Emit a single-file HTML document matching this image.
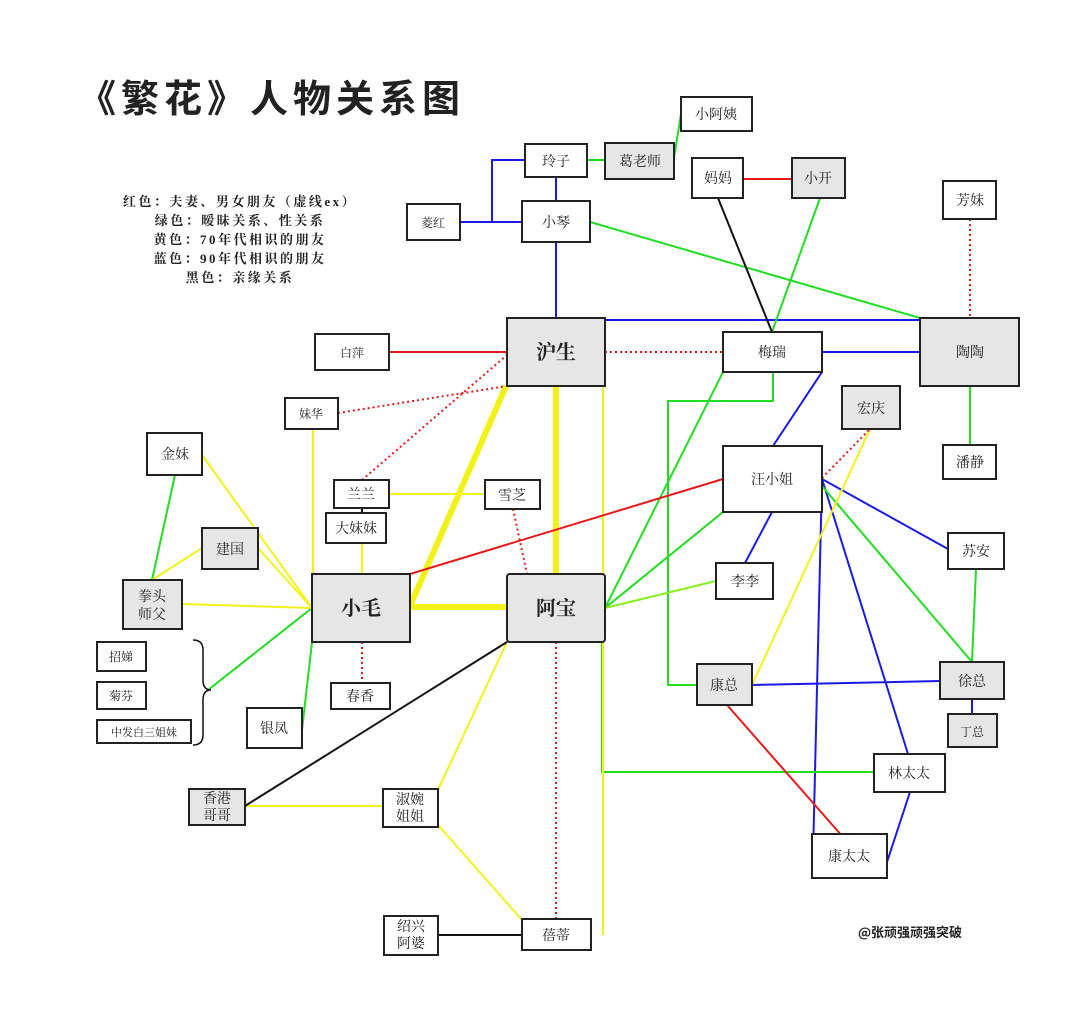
<!DOCTYPE html>
<html><head><meta charset="utf-8"><style>
body{margin:0;background:#fff;}
svg text{font-family:"Liberation Serif","Noto Serif CJK SC",serif;fill:#222;}
</style></head><body>
<svg width="1080" height="1014" viewBox="0 0 1080 1014" xmlns="http://www.w3.org/2000/svg">
<rect width="1080" height="1014" fill="#fff"/>
<text x="78" y="112" font-size="38" font-weight="bold" style="font-family:'Noto Sans CJK SC',sans-serif" letter-spacing="5">《繁花》人物关系图</text>
<g font-size="13" text-anchor="middle" style="font-family:'Noto Serif CJK SC',serif" font-weight="bold" letter-spacing="2.5">
<text x="240" y="206">红色：夫妻、男女朋友（虚线ex）</text>
<text x="240" y="225">绿色：暧昧关系、性关系</text>
<text x="240" y="244">黄色：70年代相识的朋友</text>
<text x="240" y="263">蓝色：90年代相识的朋友</text>
<text x="240" y="282">黑色：亲缘关系</text>
</g>
<text x="910" y="937" font-size="13" font-weight="bold" text-anchor="middle" style="font-family:'Noto Sans CJK SC',sans-serif">@张顽强顽强突破</text>
<g fill="none" stroke-width="2">
<g stroke="#1a1ae6">
<polyline points="525,160 492,160 492,222 460,222"/>
<line x1="492" y1="222" x2="522" y2="222"/>
<line x1="556" y1="177" x2="556" y2="201"/>
<line x1="556" y1="242" x2="556" y2="318"/>
<line x1="605" y1="320" x2="920" y2="320"/>
<line x1="822" y1="352" x2="920" y2="352"/>
<line x1="822" y1="372" x2="773" y2="446"/>
<line x1="772" y1="512" x2="745" y2="563"/>
<line x1="822" y1="479" x2="948" y2="549"/>
<line x1="822" y1="479" x2="908" y2="754"/>
<line x1="822" y1="479" x2="813" y2="856"/>
<line x1="752" y1="685" x2="940" y2="681"/>
<line x1="972" y1="699" x2="972" y2="714"/>
<line x1="910" y1="792" x2="887" y2="862"/>
</g>
<g stroke="#22dd22">
<line x1="587" y1="160" x2="605" y2="160"/>
<line x1="674" y1="158" x2="681" y2="114"/>
<line x1="590" y1="222" x2="920" y2="318"/>
<line x1="820" y1="198" x2="772" y2="332"/>
<line x1="970" y1="386" x2="970" y2="445"/>
<polyline points="773,372 773,401 668,401 668,685 697,685"/>
<line x1="723" y1="372" x2="605" y2="608"/>
<line x1="723" y1="512" x2="605" y2="608"/>
<polyline points="602,600 602,772 874,772"/>
<line x1="822" y1="486" x2="972" y2="662"/>
<line x1="976" y1="569" x2="972" y2="662"/>
<line x1="175" y1="475" x2="152" y2="580"/>
<line x1="312" y1="608" x2="208" y2="690"/>
<line x1="312" y1="642" x2="302" y2="730"/>
</g>
<line x1="605" y1="608" x2="716" y2="581" stroke="#88ee22"/>
<g stroke="#f2f21a">
<line x1="313" y1="429" x2="313" y2="580"/>
<line x1="389" y1="494" x2="485" y2="494"/>
<line x1="362" y1="543" x2="362" y2="574"/>
<line x1="202" y1="455" x2="312" y2="608"/>
<line x1="258" y1="548" x2="312" y2="608"/>
<line x1="202" y1="548" x2="152" y2="580"/>
<line x1="182" y1="604" x2="312" y2="608"/>
<line x1="603" y1="386" x2="603" y2="935"/>
<line x1="507" y1="642" x2="438" y2="790"/>
<line x1="245" y1="806" x2="383" y2="806"/>
<line x1="438" y1="825" x2="522" y2="920"/>
<line x1="870" y1="429" x2="752" y2="685"/>
</g>
<g stroke="#f2f21a" stroke-width="6">
<line x1="506" y1="386" x2="410" y2="606"/>
<line x1="556" y1="386" x2="556" y2="574"/>
<line x1="410" y1="607" x2="507" y2="607"/>
</g>
<g stroke="#e61a1a">
<line x1="389" y1="352" x2="507" y2="352"/>
<line x1="743" y1="179" x2="792" y2="179"/>
<line x1="410" y1="574" x2="723" y2="479"/>
<line x1="727" y1="705" x2="850" y2="845"/>
</g>
<g stroke="#e61a1a" stroke-dasharray="2,3">
<line x1="605" y1="352" x2="723" y2="352"/>
<line x1="338" y1="413" x2="507" y2="386"/>
<line x1="362" y1="480" x2="507" y2="355"/>
<line x1="513" y1="509" x2="527" y2="574"/>
<line x1="362" y1="642" x2="362" y2="683"/>
<line x1="556" y1="642" x2="556" y2="919"/>
<line x1="970" y1="219" x2="970" y2="318"/>
<line x1="822" y1="478" x2="870" y2="429"/>
</g>
<g stroke="#111">
<line x1="718" y1="198" x2="772" y2="332"/>
<line x1="507" y1="642" x2="245" y2="806"/>
<line x1="438" y1="935" x2="522" y2="935"/>
<line x1="362" y1="508" x2="362" y2="513"/>
</g>
<path d="M193,640 q10,0 10,10 v30 q0,10 8,10 q-8,0 -8,10 v35 q0,10 -10,10" stroke="#111" stroke-width="1.5"/>
</g>
<g stroke="#222" stroke-width="2">
<rect x="525" y="144" width="62" height="33" fill="#fff"/>
<rect x="605" y="143" width="69" height="36" fill="#e6e6e6"/>
<rect x="681" y="97" width="71" height="34" fill="#fff"/>
<rect x="407" y="204" width="53" height="36" fill="#fff"/>
<rect x="522" y="201" width="68" height="41" fill="#fff"/>
<rect x="692" y="158" width="51" height="40" fill="#fff"/>
<rect x="792" y="158" width="53" height="40" fill="#e6e6e6"/>
<rect x="943" y="181" width="53" height="38" fill="#fff"/>
<rect x="315" y="334" width="74" height="36" fill="#fff"/>
<rect x="507" y="318" width="98" height="68" fill="#e6e6e6"/>
<rect x="723" y="332" width="99" height="40" fill="#fff"/>
<rect x="920" y="318" width="99" height="68" fill="#e6e6e6"/>
<rect x="285" y="398" width="53" height="31" fill="#fff"/>
<rect x="842" y="386" width="58" height="43" fill="#e6e6e6"/>
<rect x="147" y="433" width="55" height="42" fill="#fff"/>
<rect x="723" y="446" width="99" height="66" fill="#fff"/>
<rect x="334" y="480" width="55" height="28" fill="#fff"/>
<rect x="485" y="480" width="55" height="29" fill="#fff"/>
<rect x="326" y="513" width="60" height="30" fill="#fff"/>
<rect x="943" y="445" width="53" height="34" fill="#fff"/>
<rect x="202" y="528" width="56" height="41" fill="#e6e6e6"/>
<rect x="948" y="533" width="56" height="36" fill="#fff"/>
<rect x="716" y="563" width="57" height="36" fill="#fff"/>
<rect x="123" y="580" width="59" height="49" fill="#e6e6e6"/>
<rect x="312" y="574" width="98" height="68" fill="#e6e6e6"/>
<rect x="507" y="574" width="98" height="68" fill="#e6e6e6" rx="3"/>
<rect x="97" y="642" width="49" height="29" fill="#fff"/>
<rect x="97" y="682" width="49" height="27" fill="#fff"/>
<rect x="97" y="720" width="94" height="23" fill="#fff"/>
<rect x="247" y="708" width="55" height="40" fill="#fff"/>
<rect x="331" y="683" width="59" height="26" fill="#fff"/>
<rect x="697" y="664" width="55" height="41" fill="#e6e6e6"/>
<rect x="940" y="662" width="64" height="37" fill="#e6e6e6"/>
<rect x="948" y="714" width="49" height="33" fill="#e6e6e6"/>
<rect x="874" y="754" width="71" height="38" fill="#fff"/>
<rect x="189" y="789" width="56" height="36" fill="#e6e6e6"/>
<rect x="383" y="789" width="55" height="38" fill="#fff"/>
<rect x="812" y="834" width="75" height="44" fill="#fff"/>
<rect x="384" y="916" width="54" height="39" fill="#fff"/>
<rect x="522" y="919" width="69" height="31" fill="#fff"/>
</g>
<g font-size="14" text-anchor="middle">
<text x="556" y="166">玲子</text>
<text x="640" y="166">葛老师</text>
<text x="716" y="119">小阿姨</text>
<text x="433" y="227" font-size="12">菱红</text>
<text x="556" y="227">小琴</text>
<text x="718" y="183">妈妈</text>
<text x="818" y="183">小开</text>
<text x="970" y="205">芳妹</text>
<text x="352" y="357" font-size="12">白萍</text>
<text x="556" y="359" font-size="20" font-weight="bold">沪生</text>
<text x="772" y="357">梅瑞</text>
<text x="970" y="357">陶陶</text>
<text x="311" y="418" font-size="12">妹华</text>
<text x="871" y="413">宏庆</text>
<text x="175" y="459">金妹</text>
<text x="772" y="484">汪小姐</text>
<text x="361" y="499">兰兰</text>
<text x="512" y="500">雪芝</text>
<text x="356" y="533">大妹妹</text>
<text x="970" y="467">潘静</text>
<text x="230" y="554">建国</text>
<text x="976" y="556">苏安</text>
<text x="745" y="586">李李</text>
<text x="152" y="601">拳头</text>
<text x="152" y="619">师父</text>
<text x="361" y="615" font-size="20" font-weight="bold">小毛</text>
<text x="556" y="615" font-size="20" font-weight="bold">阿宝</text>
<text x="121" y="661" font-size="12">招娣</text>
<text x="121" y="700" font-size="12">菊芬</text>
<text x="144" y="736" font-size="11">中发白三姐妹</text>
<text x="274" y="733">银凤</text>
<text x="360" y="701">春香</text>
<text x="724" y="690">康总</text>
<text x="972" y="686">徐总</text>
<text x="972" y="736" font-size="12">丁总</text>
<text x="909" y="778">林太太</text>
<text x="217" y="803">香港</text>
<text x="217" y="820">哥哥</text>
<text x="410" y="804">淑婉</text>
<text x="410" y="821">姐姐</text>
<text x="849" y="861">康太太</text>
<text x="411" y="931">绍兴</text>
<text x="411" y="948">阿婆</text>
<text x="556" y="940">蓓蒂</text>
</g>
</svg>
</body></html>
